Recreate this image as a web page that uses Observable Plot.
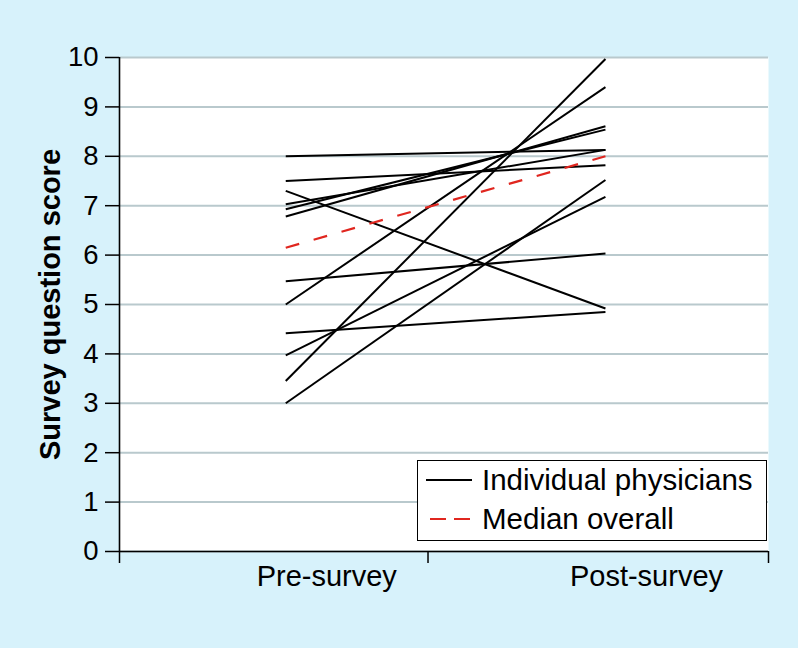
<!DOCTYPE html>
<html>
<head>
<meta charset="utf-8">
<script src="https://cdn.jsdelivr.net/npm/d3@7"></script>
<script src="https://cdn.jsdelivr.net/npm/@observablehq/plot@0.6"></script>
<style>
  html, body { margin: 0; padding: 0; background: #d7f2fb; }
  #wrap { position: relative; width: 798px; height: 648px; font-family: "Liberation Sans", Arial, Helvetica, sans-serif; }
  #legend { position: absolute; left: 417px; top: 460px; width: 350px; height: 81px; box-sizing: border-box;
            border: 1.5px solid #000; background: #fff; padding-top: 0px; }
  .row { display: flex; align-items: center; height: 38.5px; }
  .row svg { margin-left: 8px; margin-right: 10px; flex: none; }
  .row span { font-size: 29.5px; color: #000; white-space: nowrap; }
</style>
</head>
<body>
<div id="wrap"></div>
<script>
// ---- data ----
const categories = ["Pre-survey", "Post-survey"];
const preScores  = [8.0, 7.5, 7.3, 7.03, 6.93, 6.78, 5.47, 5.0, 4.42, 3.97, 3.45, 3.0];
const postScores = [8.13, 7.82, 4.92, 8.13, 8.54, 8.61, 6.03, 9.4, 4.85, 7.18, 9.97, 7.52];
const medianScores = [6.15, 8.0];
const yTicks = [0, 1, 2, 3, 4, 5, 6, 7, 8, 9, 10];
const yLabel = "Survey question score";
const legendLabels = ["Individual physicians", "Median overall"];

// ---- tables built from the arrays ----
const rows = [];
preScores.forEach((p, i) => {
  rows.push({id: i, phase: 1, score: p});
  rows.push({id: i, phase: 2, score: postScores[i]});
});
const medianRows = medianScores.map((s, j) => ({phase: j + 1, score: s}));
const labelRows = categories.map((c, j) => ({phase: j + 1, label: c}));

const xDomain = [0.48, 2.51];
const xEdges = [0.48, 1.445, 2.51];
const font = '"Liberation Sans", Arial, Helvetica, sans-serif';

const chart = Plot.plot({
  width: 798,
  height: 648,
  marginTop: 57,
  marginBottom: 97,
  marginLeft: 119,
  marginRight: 30,
  style: {background: "transparent", fontFamily: font, color: "#000", overflow: "visible"},
  x: {domain: xDomain},
  y: {domain: [0, 10]},
  marks: [
    Plot.frame({fill: "#ffffff", stroke: null}),
    Plot.gridY(yTicks, {stroke: "#b9c9cd", strokeOpacity: 1, strokeWidth: 2}),
    Plot.line(rows, {x: "phase", y: "score", z: "id", stroke: "#000", strokeWidth: 2, strokeLinecap: "butt"}),
    Plot.line(medianRows, {x: "phase", y: "score", stroke: "#e0261f", strokeWidth: 2.2, strokeDasharray: "14,15", strokeLinecap: "butt"}),
    Plot.ruleY([0], {stroke: "#000", strokeWidth: 1.6}),
    Plot.ruleX([xDomain[0]], {stroke: "#000", strokeWidth: 1.6}),
    Plot.axisY({ticks: yTicks, tickSize: 14, tickPadding: 7, fontSize: 27.5, strokeWidth: 1.5, tickFormat: d => String(d), label: null}),
    Plot.axisX({ticks: xEdges, tickSize: 12, strokeWidth: 1.5, tickFormat: () => "", label: null}),
    Plot.text(labelRows, {x: "phase", text: "label", frameAnchor: "bottom", dy: 34, dx: 41, fontSize: 29, fill: "#000"}),
    Plot.text([yLabel], {text: d => d, frameAnchor: "left", textAnchor: "middle", lineAnchor: "middle", rotate: -90, dx: -69, dy: 0, fontSize: 29, fontWeight: "bold", fill: "#000"})
  ]
});

const wrap = document.getElementById("wrap");
wrap.appendChild(chart);

// legend (HTML overlay)
const legend = document.createElement("div");
legend.id = "legend";
const swatches = [
  '<svg width="46" height="10"><line x1="0" y1="5" x2="46" y2="5" stroke="#000" stroke-width="2"/></svg>',
  '<svg width="46" height="10"><line x1="4" y1="5" x2="46" y2="5" stroke="#e0261f" stroke-width="2.2" stroke-dasharray="16,8"/></svg>'
];
legendLabels.forEach((lab, i) => {
  const r = document.createElement("div");
  r.className = "row";
  r.innerHTML = swatches[i] + "<span></span>";
  r.querySelector("span").textContent = lab;
  legend.appendChild(r);
});
wrap.appendChild(legend);
</script>
</body>
</html>
